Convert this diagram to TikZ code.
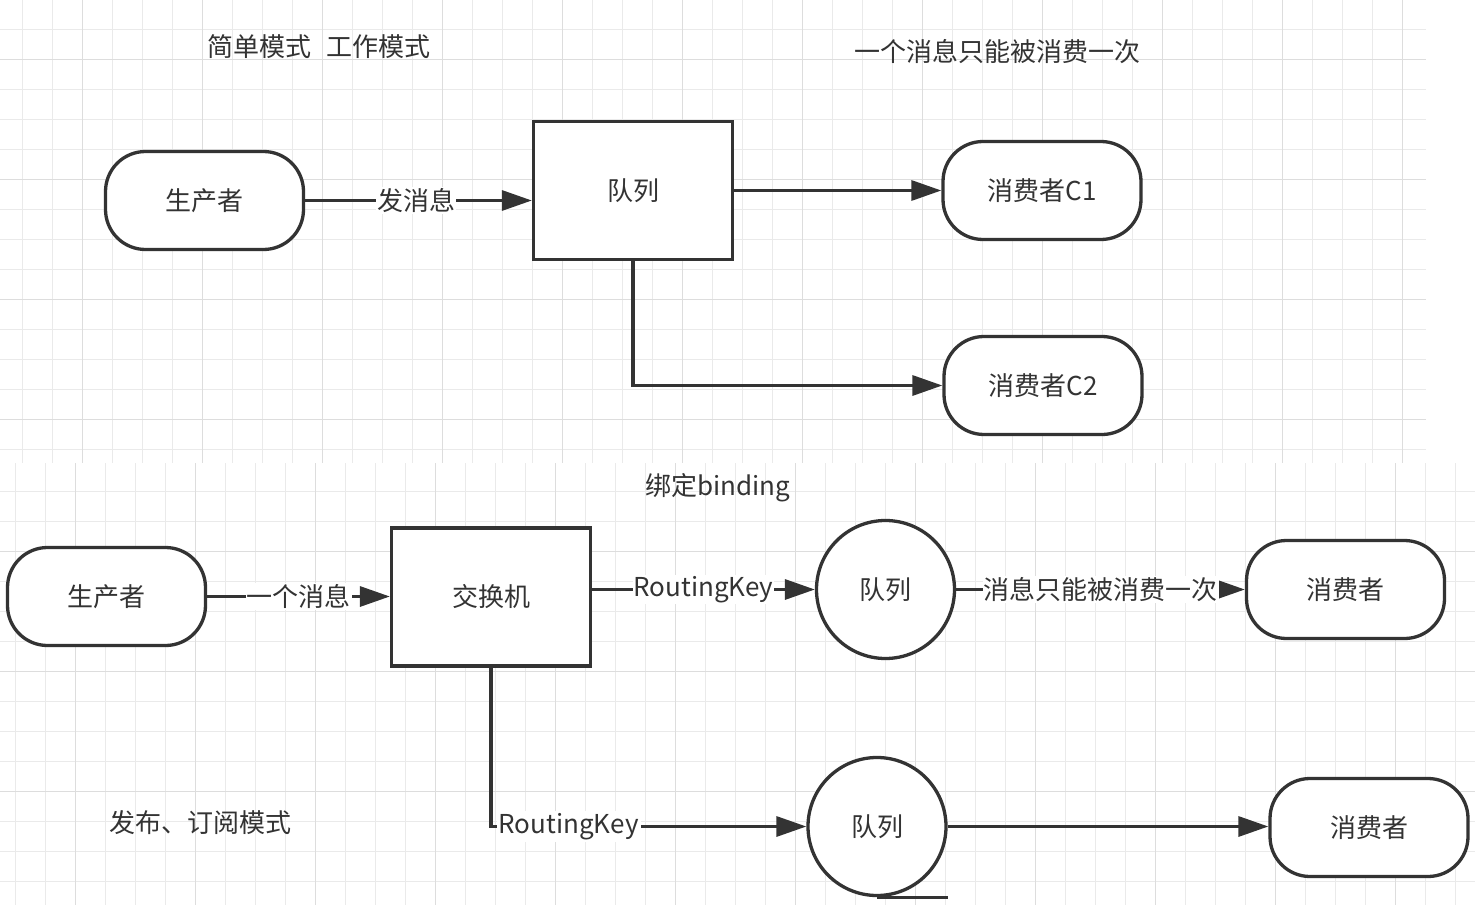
\documentclass[tikz,border=0pt]{standalone}
\usepackage{fontspec}
\setmainfont{Noto Sans CJK SC}
\usetikzlibrary{arrows.meta}

\definecolor{inkc}{HTML}{333333}
\definecolor{txtc}{HTML}{333333}
\definecolor{gridminor}{HTML}{EAEAEA}
\definecolor{gridmajor}{HTML}{DDDDDD}

\begin{document}
\begin{tikzpicture}[x=1pt,y=-1pt,
  ink/.style={draw=inkc, line width=3.3pt},
  term/.style={ink, fill=white, rectangle, rounded corners=40pt,
    minimum width=198pt, minimum height=98pt, text=txtc},
  box/.style={ink, fill=white, rectangle, minimum width=199pt,
    minimum height=138pt, text=txtc},
  ring/.style={ink, fill=white, circle, minimum size=138pt, text=txtc},
  conn/.style={ink, -{Triangle[length=30pt,width=20pt]}},
  tag/.style={fill=white, inner sep=1pt, text=txtc},
  note/.style={text=txtc, inner sep=0pt},
  font=\fontsize{26}{30}\selectfont
]
% page
\useasboundingbox (0,0) rectangle (1475,912);
\fill[white] (0,0) rectangle (1475,912);

% upper grid sheet
\foreach \x in {22,52,...,1426} \draw[gridminor, line width=1pt] (\x,0) -- (\x,463);
\foreach \y in {29.5,59.5,...,463} \draw[gridminor, line width=1pt] (0,\y) -- (1426,\y);
\foreach \x in {82,202,...,1426} \draw[gridmajor, line width=1pt] (\x,0) -- (\x,463);
\foreach \y in {59.5,179.5,...,463} \draw[gridmajor, line width=1pt] (0,\y) -- (1426,\y);

% lower grid sheet
\foreach \x in {15,45,...,1475} \draw[gridminor, line width=1pt] (\x,463) -- (\x,905);
\foreach \y in {491.7,521.7,...,905} \draw[gridminor, line width=1pt] (0,\y) -- (1475,\y);
\foreach \x in {75,195,...,1475} \draw[gridmajor, line width=1pt] (\x,463) -- (\x,905);
\foreach \y in {551.7,671.7,...,905} \draw[gridmajor, line width=1pt] (0,\y) -- (1475,\y);

% simple / work queue
\node[note] (t1) at (319,47) {简单模式\hspace{16pt}工作模式};
\node[note] (t2) at (997.5,52) {一个消息只能被消费一次};
\node[term] (p1) at (204.5,200.5) {生产者};
\node[box]  (q1) at (633,190.5) {队列};
\node[term] (c1) at (1042,190.5) {消费者C1};
\node[term] (c2) at (1043,385.5) {消费者C2};

\draw[conn] (p1.east) -- (p1.east -| q1.west) node[tag,pos=0.49] {发消息};
\draw[conn] (q1.east) -- (c1.west);
\draw[conn] (q1.south) |- (c2.west);

% publish / subscribe
\node[note] (t3) at (717.5,488) {绑定binding};
\node[note] (t4) at (200,823) {发布、订阅模式};
\node[term] (p2) at (106.5,596.5) {生产者};
\node[box]  (ex) at (491,597) {交换机};
\node[ring] (k1) at (885.5,589.5) {队列};
\node[term] (s1) at (1345.5,589.5) {消费者};
\node[ring] (k2) at (877,826.5) {队列};
\node[term] (s2) at (1369,827.5) {消费者};
% tape tail of the second queue
\draw[ink] (k2.south) -- (k2.south -| k2.east);

\draw[conn] (p2.east) -- (p2.east -| ex.west) node[tag,midway] {一个消息};
\draw[conn] (k1.west -| ex.east) -- (k1.west) node[tag,midway] {RoutingKey};
\draw[conn] (k1.east) -- (s1.west) node[tag,midway] {消息只能被消费一次};
\draw[conn] (ex.south) |- (k2.west) node[tag,pos=0.5,anchor=west,xshift=4pt,inner sep=2pt] {RoutingKey};
\draw[conn] (k2.east) -- (k2.east -| s2.west);
\end{tikzpicture}
\end{document}
